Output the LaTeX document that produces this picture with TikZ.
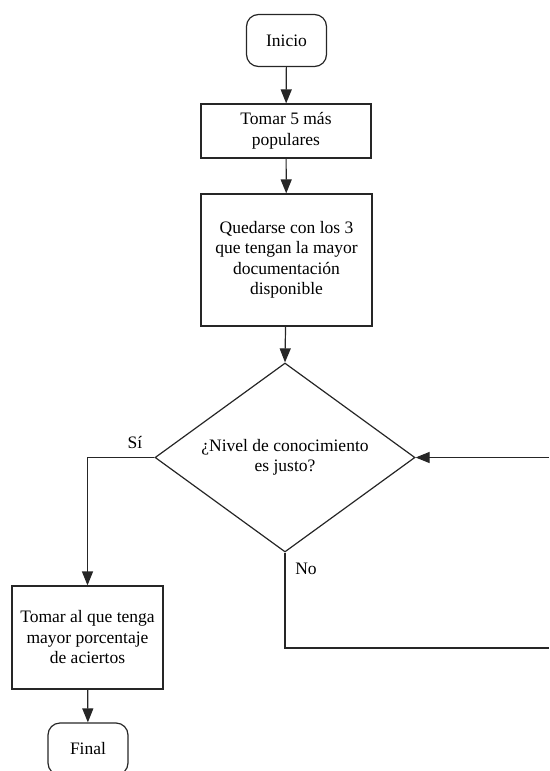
\documentclass[tikz,border=0pt]{standalone}
\usepackage{fontspec}
\setmainfont{Liberation Serif}
\usetikzlibrary{shapes.geometric,arrows.meta}
\tikzset{
  base/.style={draw=black!85, line width=1.2pt, align=center, inner sep=0pt,
    font=\fontsize{17.5}{20.5}\selectfont},
  term/.style={base, rounded corners=12pt, minimum width=80pt, minimum height=52pt},
  proc/.style={base, rectangle},
  dec/.style={base, diamond, shape aspect=1.376, minimum width=260pt, minimum height=189pt},
  flow/.style={draw=black!85, line width=1.2pt, -{Triangle[width=11pt,length=14pt]}},
  plain/.style={draw=black!85, line width=1.2pt},
  lbl/.style={font=\fontsize{17.5}{20.5}\selectfont, inner sep=0pt}
}
\begin{document}
\begin{tikzpicture}[x=1pt,y=-1pt]
\useasboundingbox (0,0) rectangle (549,771);
\node[term] (inicio) at (286.5,40.5) {Inicio};
\node[proc, minimum width=170pt, minimum height=54pt] (tomar5) at (286,131) {Tomar 5 más\\populares};
\node[proc, minimum width=171pt, minimum height=132pt] (quedarse) at (286.5,260) {Quedarse con los 3\\que tengan la mayor\\documentación\\disponible};
\node[dec] (decision) at (285,457.5) {¿Nivel de conocimiento\\es justo?};
\node[proc, minimum width=151pt, minimum height=103pt] (tomaral) at (87.5,637.5) {Tomar al que tenga\\mayor porcentaje\\de aciertos};
\node[term] (final) at (88,749) {Final};
\coordinate (loopa) at (549,648);
\coordinate (loopb) at (549,457.5);
\draw[flow] (inicio) -- (tomar5);
\draw[flow] (tomar5) -- (quedarse);
\draw[flow] (quedarse) -- (decision.north);
\draw[flow] (decision.west) -| (tomaral.north);
\draw[plain] (decision.south) |- (loopa);
\draw[flow] (loopb) -- (decision.east);
\draw[flow] (tomaral) -- (final);
\node[lbl] (si) at (135,442) {Sí};
\node[lbl] (no) at (306,569) {No};
\end{tikzpicture}
\end{document}
